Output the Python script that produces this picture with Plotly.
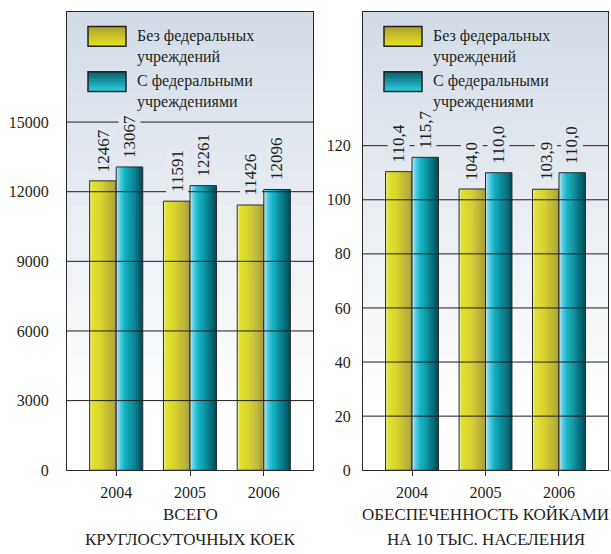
import plotly.graph_objects as go

# ---------------- data ----------------
years = ["2004", "2005", "2006"]
beds_without = [12467, 11591, 11426]
beds_with = [13067, 12261, 12096]
beds_without_lbl = ["12467", "11591", "11426"]
beds_with_lbl = ["13067", "12261", "12096"]
rate_without = [110.4, 104.0, 103.9]
rate_with = [115.7, 110.0, 110.0]
rate_without_lbl = ["110,4", "104,0", "103,9"]
rate_with_lbl = ["115,7", "110,0", "110,0"]
series_names = ["Без федеральных<br>учреждений", "С федеральными<br>учреждениями"]
panel_titles = [["ВСЕГО", "КРУГЛОСУТОЧНЫХ КОЕК"], ["ОБЕСПЕЧЕННОСТЬ КОЙКАМИ", "НА 10 ТЫС. НАСЕЛЕНИЯ"]]
beds_ticks = [0, 3000, 6000, 9000, 12000, 15000]
rate_ticks = [0, 20, 40, 60, 80, 100, 120]

# ---------------- style ----------------
W, H = 611, 554
FONT = "'Liberation Serif', 'Times New Roman', 'DejaVu Serif', serif"
TXT = "#231f20"
PLOT_TOP, PLOT_BOT = 12, 478
PANELS = [
    dict(x0=67, x1=313, xa="x", ya="y", yrange=[0, 19750], ticks=beds_ticks, standoff=14,
         series=[(beds_without, beds_without_lbl), (beds_with, beds_with_lbl)]),
    dict(x0=363, x1=608, xa="x2", ya="y2", yrange=[0, 169.5], ticks=rate_ticks, standoff=8,
         series=[(rate_without, rate_without_lbl), (rate_with, rate_with_lbl)]),
]
XRANGE = [-0.667, 2.667]
BAR_W = 0.36
OFFSETS = [-BAR_W, 0.0]
BAR_STOPS = [
    [(0.0, "#f2f2c0"), (0.1, "#e2e22c"), (0.45, "#d6d22e"), (1.0, "#ab9e3a")],
    [(0.0, "#c0e8f6"), (0.14, "#5ccbe2"), (0.32, "#12b4c4"), (1.0, "#004e5c")],
]
SWATCH_STOPS = [
    [(0.0, "#aa9c30"), (1.0, "#e4e420")],
    [(0.0, "#005462"), (1.0, "#2ad2e2")],
]
BG_TOP, BG_BOT = "#d2dbe6", "#ffffff"
NSLICE = 14


def hex2rgb(h):
    h = h.lstrip("#")
    return tuple(int(h[i:i + 2], 16) for i in (0, 2, 4))


def interp(stops, t):
    for (t0, c0), (t1, c1) in zip(stops[:-1], stops[1:]):
        if t <= t1:
            f = 0 if t1 == t0 else (t - t0) / (t1 - t0)
            a, b = hex2rgb(c0), hex2rgb(c1)
            return "rgb(%d,%d,%d)" % tuple(round(a[i] + (b[i] - a[i]) * f) for i in range(3))
    return "rgb(%d,%d,%d)" % hex2rgb(stops[-1][1])


def bg_at(frac_from_top):
    return interp([(0.0, BG_TOP), (0.85, BG_BOT), (1.0, BG_BOT)], max(0.0, min(1.0, frac_from_top)))


def px(x):
    return x / W


def py(y):
    return 1 - y / H


fig = go.Figure()
shapes = []
annotations = []
layout = {}

for pi, P in enumerate(PANELS):
    sfx = "" if pi == 0 else str(pi + 1)
    layout["xaxis" + sfx] = dict(
        domain=[px(P["x0"]), px(P["x1"])], anchor=P["ya"], type="category",
        range=XRANGE, showline=True, mirror=True, linecolor="#2b2b2b", linewidth=1,
        ticks="outside", ticklen=5, tickcolor="#2b2b2b", showgrid=False, zeroline=False,
        tickfont=dict(family=FONT, size=16, color=TXT), ticklabelstandoff=3,
    )
    layout["yaxis" + sfx] = dict(
        domain=[py(PLOT_BOT), py(PLOT_TOP)], anchor=P["xa"], range=P["yrange"],
        tickvals=P["ticks"], ticktext=[str(t) for t in P["ticks"]],
        showline=True, mirror=True, linecolor="#2b2b2b", linewidth=1,
        ticks="", showgrid=False, zeroline=False, ticklabelstandoff=P["standoff"],
        tickfont=dict(family=FONT, size=16, color=TXT),
    )
    xd = "x domain" if pi == 0 else "x2 domain"
    yd = "y domain" if pi == 0 else "y2 domain"
    yr = "y" if pi == 0 else "y2"
    # background gradient
    NB = 40
    for k in range(NB):
        f0, f1 = k / NB, (k + 1) / NB
        shapes.append(dict(type="rect", xref=xd, yref=yd, x0=0, x1=1,
                           y0=1 - f1, y1=1 - f0 + 0.002, layer="below",
                           fillcolor=bg_at((f0 + f1) / 2), line=dict(width=0)))
    # gridlines above bars
    for t in P["ticks"][1:]:
        shapes.append(dict(type="line", xref=xd, yref=yr, x0=0, x1=1, y0=t, y1=t,
                           layer="above", line=dict(color="#1e1e1e", width=1)))
    # bars
    pxunit = (PLOT_BOT - PLOT_TOP) / (P["yrange"][1] - P["yrange"][0])
    for si, (vals, lbls) in enumerate(P["series"]):
        base = OFFSETS[si]
        sw = BAR_W / NSLICE
        for k in range(NSLICE):
            t = (k + 0.5) / NSLICE
            fig.add_trace(go.Bar(
                x=years, y=vals, xaxis=P["xa"], yaxis=P["ya"],
                offset=base + k * sw, width=sw * (1.25 if k < NSLICE - 1 else 1.0),
                marker=dict(color=interp(BAR_STOPS[si], t), line=dict(width=0)),
                showlegend=False, hoverinfo="skip"))
        fig.add_trace(go.Bar(
            x=years, y=vals, xaxis=P["xa"], yaxis=P["ya"], offset=base, width=BAR_W,
            marker=dict(color="rgba(0,0,0,0)", line=dict(color="#2a2a2a", width=1)),
            showlegend=False, hoverinfo="skip"))
        for ci, (v, lb) in enumerate(zip(vals, lbls)):
            ytop_px = PLOT_BOT - v * pxunit
            frac = (ytop_px - 30 - PLOT_TOP) / (PLOT_BOT - PLOT_TOP)
            annotations.append(dict(
                x=ci + base + BAR_W / 2, y=v, xref=P["xa"], yref=P["ya"], text=lb,
                textangle=-90, showarrow=False, xanchor="center", yanchor="bottom",
                yshift=7, bgcolor=bg_at(frac), borderpad=1,
                font=dict(family=FONT, size=17, color=TXT)))
    # legend
    lx = P["x0"] + 21
    for si in range(2):
        top = 27 + si * 46
        bot = top + 20
        NS = 10
        for k in range(NS):
            y0 = top + k * (bot - top) / NS
            y1 = top + (k + 1) * (bot - top) / NS
            shapes.append(dict(type="rect", xref="paper", yref="paper",
                               x0=px(lx), x1=px(lx + 38), y0=py(y1), y1=py(y0) + 0.001,
                               fillcolor=interp(SWATCH_STOPS[si], (k + 0.5) / NS),
                               line=dict(width=0), layer="above"))
        shapes.append(dict(type="rect", xref="paper", yref="paper",
                           x0=px(lx), x1=px(lx + 38), y0=py(bot), y1=py(top),
                           line=dict(color="#222222", width=1.5), layer="above"))
        annotations.append(dict(
            x=px(lx + 47), y=py(top + 20), xref="paper", yref="paper",
            text=series_names[si], showarrow=False, xanchor="left", yanchor="middle",
            align="left", font=dict(family=FONT, size=16, color=TXT)))
    # panel titles
    cx = (P["x0"] + P["x1"]) / 2
    for li, line in enumerate(panel_titles[pi]):
        annotations.append(dict(
            x=px(cx), y=py(523 + li * 25), xref="paper", yref="paper",
            text=line, showarrow=False, xanchor="center", yanchor="middle",
            font=dict(family=FONT, size=17, color=TXT)))

fig.update_layout(
    width=W, height=H, margin=dict(l=0, r=0, t=0, b=0),
    paper_bgcolor="white", plot_bgcolor="white",
    barmode="overlay", showlegend=False,
    shapes=shapes, annotations=annotations, **layout,
)

fig.write_html("out.html")
